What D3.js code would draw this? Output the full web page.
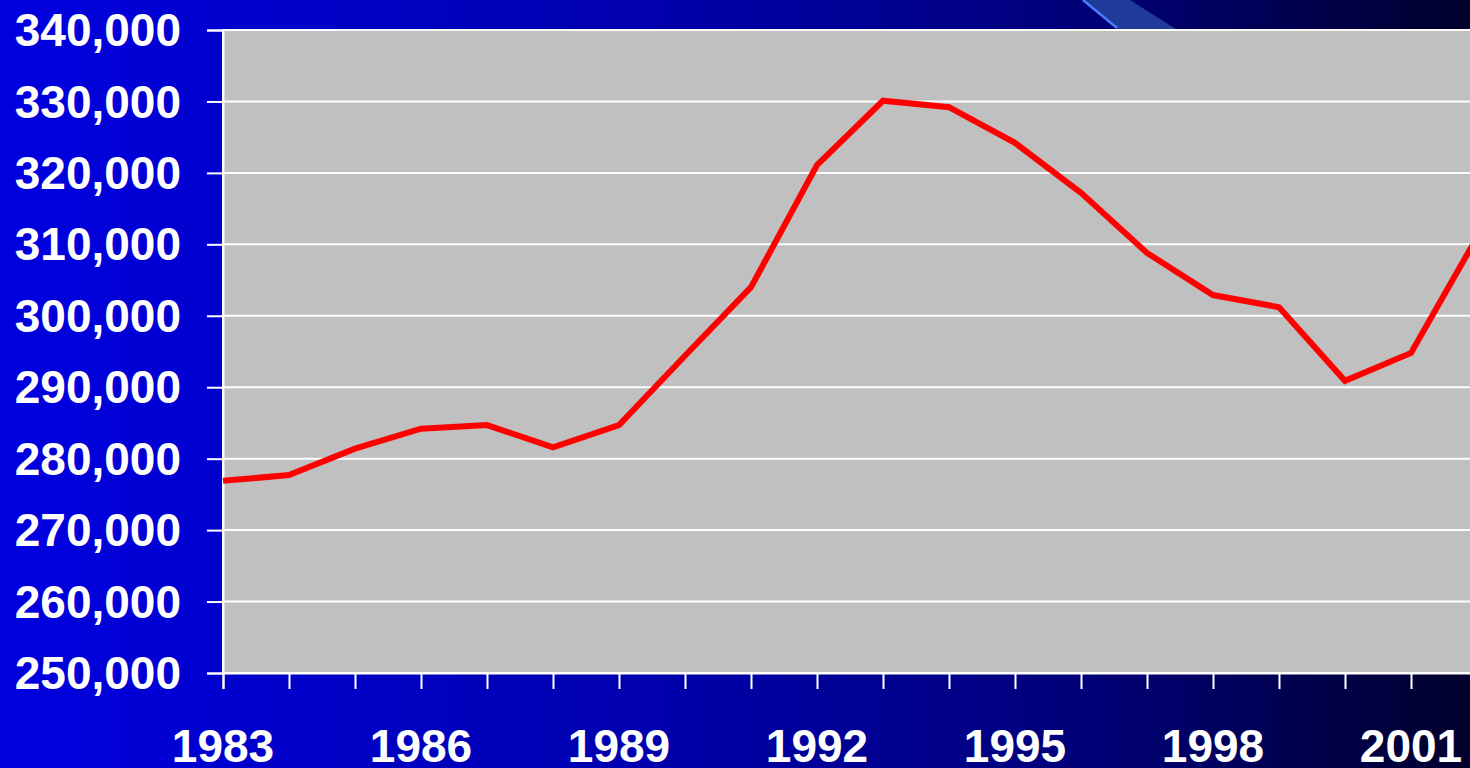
<!DOCTYPE html>
<html>
<head>
<meta charset="utf-8">
<script src="https://cdn.jsdelivr.net/npm/d3@7"></script>
<style>
  html, body { margin: 0; padding: 0; overflow: hidden; }
  svg { display: block; }
</style>
</head>
<body>
<div id="chart"></div>
<script>
const years = [1983, 1984, 1985, 1986, 1987, 1988, 1989, 1990, 1991, 1992,
  1993, 1994, 1995, 1996, 1997, 1998, 1999, 2000, 2001, 2002];
const values = [276900, 277700, 281400, 284200, 284700, 281600, 284700, 294400, 304000, 321100,
  330100, 329200, 324200, 317200, 308800, 302900, 301200, 290900, 294800, 311000];
const yTicks = [250000, 260000, 270000, 280000, 290000, 300000, 310000, 320000, 330000, 340000];
const xLabels = [1983, 1986, 1989, 1992, 1995, 1998, 2001];

const W = 1470, H = 768;
const plotLeft = 223, plotTop = 30, plotBottom = 673;

const svg = d3.select("#chart").append("svg")
  .attr("width", W)
  .attr("height", H);

// background gradient
const defs = svg.append("defs");
const grad = defs.append("linearGradient").attr("id", "bg")
  .attr("x1", 0).attr("y1", 0).attr("x2", 1).attr("y2", 0);
grad.append("stop").attr("offset", "0%").attr("stop-color", "#0000e0");
grad.append("stop").attr("offset", "45%").attr("stop-color", "#0000ac");
grad.append("stop").attr("offset", "75%").attr("stop-color", "#000076");
grad.append("stop").attr("offset", "100%").attr("stop-color", "#00002c");
svg.append("rect").attr("width", W).attr("height", H).attr("fill", "url(#bg)");

// decorative swoosh top right
svg.append("polygon")
  .attr("points", "1083,0 1130,0 1176,29 1118,29")
  .attr("fill", "#1f3a98");
svg.append("line")
  .attr("x1", 1083).attr("y1", 0).attr("x2", 1117).attr("y2", 28)
  .attr("stroke", "#4a7aff").attr("stroke-width", 2.5);

const x = d3.scaleLinear().domain([1983, 2002]).range([plotLeft, plotLeft + 19 * 66]);
const y = d3.scaleLinear().domain([250000, 340000]).range([plotBottom, plotTop]);

// plot area
svg.append("rect")
  .attr("x", plotLeft).attr("y", plotTop)
  .attr("width", x(2002) - plotLeft).attr("height", plotBottom - plotTop)
  .attr("fill", "#c0c0c0")
  .attr("stroke", "#ffffff").attr("stroke-width", 2);

// gridlines
svg.append("g")
  .selectAll("line")
  .data(yTicks.slice(1, -1))
  .join("line")
    .attr("x1", plotLeft).attr("x2", x(2002))
    .attr("y1", d => y(d)).attr("y2", d => y(d))
    .attr("stroke", "#ffffff").attr("stroke-width", 2);

// y axis
const yAxis = svg.append("g")
  .attr("transform", `translate(${plotLeft},0)`)
  .call(d3.axisLeft(y).tickValues(yTicks).tickSize(16).tickPadding(26)
    .tickFormat(d3.format(",")));
yAxis.select(".domain").attr("stroke", "#ffffff").attr("stroke-width", 2);
yAxis.selectAll(".tick line").attr("stroke", "#ffffff").attr("stroke-width", 2);
yAxis.selectAll(".tick text")
  .attr("fill", "#ffffff")
  .attr("font-family", "Liberation Sans, Arial, sans-serif")
  .attr("font-weight", "bold")
  .attr("font-size", 46)
  .attr("dy", "0.34em");

// x axis
const xAxis = svg.append("g")
  .attr("transform", `translate(0,${plotBottom})`)
  .call(d3.axisBottom(x).tickValues(years).tickSize(16).tickPadding(0).tickFormat(""));
xAxis.select(".domain").attr("stroke", "#ffffff").attr("stroke-width", 2);
xAxis.selectAll(".tick line").attr("stroke", "#ffffff").attr("stroke-width", 2);

svg.append("g")
  .selectAll("text")
  .data(xLabels)
  .join("text")
    .attr("x", d => x(d))
    .attr("y", 762)
    .attr("text-anchor", "middle")
    .attr("fill", "#ffffff")
    .attr("font-family", "Liberation Sans, Arial, sans-serif")
    .attr("font-weight", "bold")
    .attr("font-size", 46)
    .text(d => d);

// series line
const line = d3.line()
  .x((d, i) => x(years[i]))
  .y(d => y(d));

svg.append("path")
  .datum(values)
  .attr("d", line)
  .attr("fill", "none")
  .attr("stroke", "#ff0000")
  .attr("stroke-width", 6)
  .attr("stroke-linejoin", "miter");
</script>
</body>
</html>
